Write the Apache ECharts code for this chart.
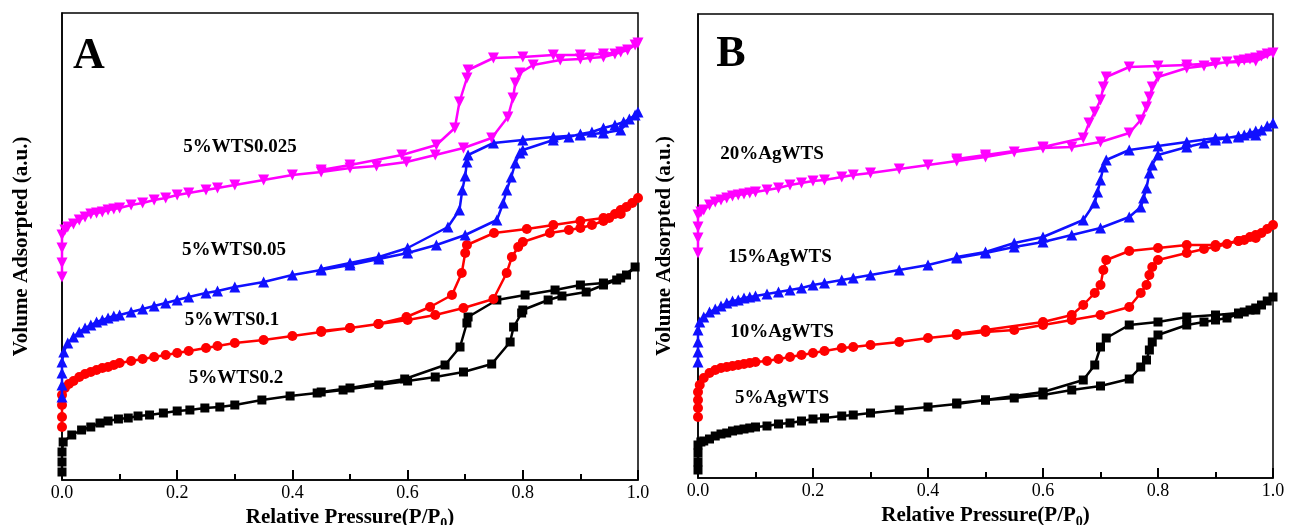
<!DOCTYPE html>
<html>
<head>
<meta charset="utf-8">
<script src="https://cdn.jsdelivr.net/npm/echarts@6/dist/echarts.min.js"></script>
<style>
html,body{margin:0;padding:0;background:#fff;}
#chart{width:1298px;height:525px;}
</style>
</head>
<body>
<div id="chart"></div>
<script>
// ---------- Panel A data: [P/P0, volume (a.u.)] adsorption then desorption ----------
const A_black_ads = [[0,8],[0,18],[0,28],[0.002,38],[0.017,45],[0.034,50],[0.05,53],[0.066,57],[0.08,59],[0.098,61],[0.115,62],[0.132,64],[0.152,65],[0.176,67],[0.2,69],[0.222,70],[0.248,72],[0.274,73],[0.3,75],[0.347,80],[0.396,84],[0.443,87],[0.488,90],[0.55,95],[0.6,99],[0.648,103],[0.697,108],[0.746,116],[0.778,138],[0.784,153],[0.798,167],[0.8,170],[0.844,180],[0.868,184],[0.91,188],[0.94,195],[0.963,200],[0.98,205],[0.995,213]];
const A_black_des = [[0.97,202],[0.94,197],[0.9,195],[0.856,190],[0.804,185],[0.755,180],[0.705,163],[0.703,157],[0.691,133],[0.665,115],[0.595,101],[0.5,92],[0.45,88]];
const A_red_ads = [[0,53],[0,63],[0,75],[0,85],[0.005,92],[0.012,96],[0.02,99],[0.03,103],[0.04,106],[0.05,108],[0.06,110],[0.07,112],[0.08,113],[0.09,115],[0.1,117],[0.12,119],[0.14,121],[0.16,123],[0.18,125],[0.2,127],[0.22,129],[0.25,132],[0.27,134],[0.3,137],[0.35,140],[0.4,144],[0.45,148],[0.5,152],[0.55,156],[0.6,160],[0.648,165],[0.697,172],[0.749,181],[0.772,207],[0.781,223],[0.792,233],[0.8,238],[0.847,247],[0.88,250],[0.9,252],[0.92,255],[0.94,259],[0.95,262],[0.96,266],[0.97,270],[0.98,273],[0.99,277],[1.0,282]];
const A_red_des = [[0.97,266],[0.94,262],[0.9,259],[0.853,255],[0.807,251],[0.75,247],[0.703,235],[0.7,227],[0.694,207],[0.677,185],[0.639,173],[0.598,163],[0.549,156],[0.5,152],[0.45,149]];
const A_blue_ads = [[0,83],[0,95],[0,107],[0,118],[0.003,128],[0.01,137],[0.02,143],[0.03,148],[0.04,152],[0.05,155],[0.06,158],[0.07,160],[0.08,162],[0.09,164],[0.1,165],[0.12,168],[0.14,171],[0.16,174],[0.18,177],[0.2,180],[0.22,183],[0.25,187],[0.27,189],[0.3,193],[0.35,198],[0.4,205],[0.45,210],[0.5,215],[0.55,221],[0.6,227],[0.65,235],[0.7,245],[0.755,260],[0.766,277],[0.772,290],[0.78,303],[0.787,317],[0.795,327],[0.8,330],[0.853,340],[0.88,343],[0.9,346],[0.92,348],[0.94,352],[0.96,355],[0.975,358],[0.985,361],[0.995,365],[1.0,368]];
const A_blue_des = [[0.97,350],[0.94,347],[0.9,345],[0.853,343],[0.8,340],[0.749,337],[0.705,325],[0.703,318],[0.7,304],[0.695,290],[0.69,270],[0.67,253],[0.6,232],[0.55,223],[0.5,217],[0.45,211]];
const A_mag_ads = [[0,203],[0,217],[0,232],[0,245],[0.005,250],[0.01,253],[0.02,256],[0.03,260],[0.04,263],[0.05,266],[0.06,267],[0.07,268],[0.08,270],[0.09,271],[0.1,272],[0.12,275],[0.14,277],[0.16,280],[0.18,282],[0.2,285],[0.22,287],[0.25,290],[0.27,292],[0.3,295],[0.35,300],[0.4,305],[0.45,308],[0.5,312],[0.546,314],[0.598,318],[0.648,325],[0.697,332],[0.746,342],[0.774,363],[0.783,382],[0.787,397],[0.795,407],[0.818,415],[0.865,420],[0.9,421],[0.917,422],[0.94,423],[0.96,426],[0.982,430],[0.995,435],[1.0,437]];
const A_mag_des = [[0.97,428],[0.94,426],[0.9,425],[0.853,425],[0.8,423],[0.749,422],[0.705,410],[0.703,402],[0.69,378],[0.682,352],[0.65,335],[0.59,325],[0.5,315],[0.45,310]];

// ---------- Panel B data ----------
const B_black_ads = [[0,8],[0,16],[0,25],[0,33],[0.005,36],[0.01,37],[0.02,39],[0.03,42],[0.04,44],[0.05,45],[0.06,47],[0.07,48],[0.08,49],[0.09,50],[0.1,51],[0.12,52],[0.14,54],[0.16,55],[0.18,57],[0.2,59],[0.22,60],[0.25,62],[0.27,63],[0.3,65],[0.35,68],[0.4,71],[0.45,74],[0.5,78],[0.55,80],[0.6,83],[0.65,88],[0.7,92],[0.75,99],[0.77,111],[0.78,118],[0.785,128],[0.79,136],[0.8,143],[0.85,153],[0.88,156],[0.9,158],[0.92,160],[0.94,164],[0.95,166],[0.96,168],[0.97,170],[0.98,173],[0.99,177],[1.0,181]];
const B_black_des = [[0.97,168],[0.94,165],[0.9,163],[0.85,161],[0.8,156],[0.75,153],[0.71,140],[0.7,131],[0.69,113],[0.67,98],[0.6,86],[0.5,78],[0.45,75]];
const B_red_ads = [[0,61],[0,70],[0,78],[0,86],[0.003,93],[0.01,100],[0.02,105],[0.03,108],[0.04,110],[0.05,111],[0.06,112],[0.07,113],[0.08,114],[0.09,115],[0.1,116],[0.12,117],[0.14,119],[0.16,121],[0.18,123],[0.2,125],[0.22,127],[0.25,130],[0.27,131],[0.3,133],[0.35,136],[0.4,140],[0.45,143],[0.5,146],[0.55,148],[0.6,153],[0.65,158],[0.7,163],[0.75,171],[0.77,185],[0.78,193],[0.785,203],[0.79,211],[0.8,218],[0.85,225],[0.88,229],[0.9,231],[0.92,234],[0.94,237],[0.95,238],[0.96,241],[0.97,243],[0.98,245],[0.99,249],[1.0,253]];
const B_red_des = [[0.97,240],[0.94,237],[0.9,233],[0.85,233],[0.8,230],[0.75,227],[0.71,218],[0.705,208],[0.7,193],[0.69,185],[0.67,173],[0.65,163],[0.6,156],[0.5,148],[0.45,144]];
const B_blue_ads = [[0,116],[0,126],[0,136],[0,148],[0.003,156],[0.01,161],[0.02,166],[0.03,169],[0.04,172],[0.05,175],[0.06,177],[0.07,178],[0.08,180],[0.09,181],[0.1,182],[0.12,184],[0.14,186],[0.16,188],[0.18,190],[0.2,193],[0.22,195],[0.25,198],[0.27,200],[0.3,203],[0.35,208],[0.4,213],[0.45,220],[0.5,225],[0.55,231],[0.6,236],[0.65,243],[0.7,250],[0.75,261],[0.77,271],[0.775,280],[0.78,290],[0.785,305],[0.79,313],[0.8,323],[0.85,331],[0.88,335],[0.9,338],[0.92,340],[0.94,342],[0.95,343],[0.96,345],[0.97,347],[0.98,348],[0.99,352],[1.0,355]];
const B_blue_des = [[0.97,343],[0.94,341],[0.9,340],[0.85,336],[0.8,332],[0.75,328],[0.71,318],[0.705,311],[0.7,298],[0.695,286],[0.69,275],[0.67,258],[0.6,241],[0.55,235],[0.5,226],[0.45,221]];
const B_mag_ads = [[0,225],[0,240],[0,251],[0,263],[0.005,266],[0.01,268],[0.02,273],[0.03,276],[0.04,278],[0.05,280],[0.06,282],[0.07,283],[0.08,284],[0.09,285],[0.1,286],[0.12,288],[0.14,290],[0.16,293],[0.18,295],[0.2,297],[0.22,298],[0.25,301],[0.27,303],[0.3,305],[0.35,309],[0.4,313],[0.45,317],[0.5,321],[0.55,326],[0.6,330],[0.65,331],[0.7,336],[0.75,345],[0.77,358],[0.78,371],[0.785,381],[0.79,391],[0.8,401],[0.85,410],[0.88,412],[0.9,414],[0.92,416],[0.94,417],[0.95,418],[0.96,419],[0.97,420],[0.98,422],[0.99,424],[1.0,425]];
const B_mag_des = [[0.97,417],[0.94,416],[0.9,415],[0.85,413],[0.8,412],[0.75,411],[0.71,401],[0.705,391],[0.7,378],[0.69,366],[0.68,355],[0.67,340],[0.6,331],[0.5,323],[0.45,319]];

const A_labels = ['5%WTS0.2','5%WTS0.1','5%WTS0.05','5%WTS0.025'];
const B_labels = ['5%AgWTS','10%AgWTS','15%AgWTS','20%AgWTS'];
const xTickLabels = ['0.0','0.2','0.4','0.6','0.8','1.0'];
const panelLetters = ['A','B'];
const yAxisName = 'Volume Adsorpted (a.u.)';

const SERIF = '"Liberation Serif","Times New Roman",serif';
const colors = ['#000000','#ff0000','#1010ff','#ff00ff'];
const symbols = ['rect','circle','triangle','triangle'];
const symRot = [0,0,0,180];
const symSizes = [9,10,11,11];

const chart = echarts.init(document.getElementById('chart'), null, {renderer:'canvas'});

function xAxisFor(gi){
  return {
    gridIndex: gi, type:'value', min:0, max:1, interval:0.2,
    axisLine:{show:true, lineStyle:{color:'#000', width:1.5}},
    axisTick:{show:true, inside:true, length:10, lineStyle:{color:'#000', width:2}},
    minorTick:{show:true, splitNumber:2, length:6, lineStyle:{color:'#000', width:2}},
    splitLine:{show:false},
    axisLabel:{color:'#000', fontFamily:SERIF, fontSize:18, margin:4,
      formatter:(v)=> xTickLabels[Math.round(v/0.2)]},
    name:'{n|Relative Pressure(P/P}{s|0}{n|)}',
    nameLocation:'middle', nameGap:17,
    nameTextStyle:{rich:{
      n:{fontFamily:SERIF, fontSize:21, fontWeight:'bold', color:'#000', lineHeight:22},
      s:{fontFamily:SERIF, fontSize:14, fontWeight:'bold', color:'#000', padding:[14,0,0,0]}
    }}
  };
}
function yAxisFor(gi, maxV, gap){
  return {
    gridIndex: gi, type:'value', min:0, max:maxV,
    axisLine:{show:true, lineStyle:{color:'#000', width:1.5}},
    axisTick:{show:false}, axisLabel:{show:false}, splitLine:{show:false},
    name: yAxisName, nameLocation:'middle', nameGap:gap,
    nameTextStyle:{fontFamily:SERIF, fontSize:21, fontWeight:'bold', color:'#000'}
  };
}

function mkSeries(gi, idx, ads, des){
  return {
    type:'line', xAxisIndex:gi, yAxisIndex:gi,
    data: ads.concat(des),
    symbol: symbols[idx], symbolSize: symSizes[idx], symbolRotate: symRot[idx],
    showAllSymbol:true,
    lineStyle:{color:colors[idx], width:2.5},
    itemStyle:{color:colors[idx], borderWidth:0},
    animation:false, z: 2+idx
  };
}

const series = [
  mkSeries(0,0,A_black_ads,A_black_des),
  mkSeries(0,1,A_red_ads,A_red_des),
  mkSeries(0,2,A_blue_ads,A_blue_des),
  mkSeries(0,3,A_mag_ads,A_mag_des),
  mkSeries(1,0,B_black_ads,B_black_des),
  mkSeries(1,1,B_red_ads,B_red_des),
  mkSeries(1,2,B_blue_ads,B_blue_des),
  mkSeries(1,3,B_mag_ads,B_mag_des)
];

const labelStyle = {fontFamily:SERIF, fontSize:19, fontWeight:'bold', fill:'#000', textAlign:'center', textVerticalAlign:'middle'};
function txt(x,y,t,extra){ return {type:'text', x:x, y:y, style:Object.assign({}, labelStyle, {text:t}, extra||{}), z:100}; }

const graphics = [
  txt(89,57,panelLetters[0],{fontSize:44}),
  txt(731,55,panelLetters[1],{fontSize:44}),
  txt(236,378,A_labels[0]), txt(232,320,A_labels[1]), txt(234,250,A_labels[2]), txt(240,147,A_labels[3]),
  txt(782,398,B_labels[0]), txt(782,332,B_labels[1]), txt(780,257,B_labels[2]), txt(772,154,B_labels[3])
];

chart.setOption({
  backgroundColor:'#ffffff',
  animation:false,
  grid:[
    {left:62, top:13, width:576, height:467, show:true, borderColor:'#000', borderWidth:1.5, backgroundColor:'transparent', containLabel:false, outerBoundsMode:'none'},
    {left:698, top:14, width:575, height:464, show:true, borderColor:'#000', borderWidth:1.5, backgroundColor:'transparent', containLabel:false, outerBoundsMode:'none'}
  ],
  xAxis:[xAxisFor(0), xAxisFor(1)],
  yAxis:[yAxisFor(0,467,30), yAxisFor(1,464,23)],
  series: series,
  graphic: graphics
});
</script>
</body>
</html>
